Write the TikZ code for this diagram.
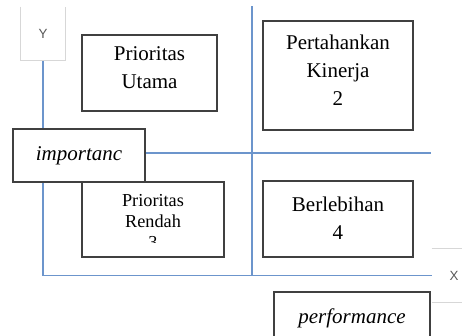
\documentclass[tikz,border=0pt]{standalone}
\usepackage{fontspec}
\setmainfont{Liberation Serif}
\newfontfamily\axisfont{Liberation Sans}
\usepackage{tikz}
\usetikzlibrary{positioning, backgrounds}
\definecolor{axisblue}{RGB}{108,149,204}
\definecolor{boxgray}{RGB}{64,64,64}
\definecolor{edgegray}{RGB}{215,215,215}

\begin{document}
\begin{tikzpicture}[x=0.75pt, y=-0.75pt,
		quad/.style={draw=boxgray, line width=1.1pt, fill=white, rectangle, inner sep=0pt},
		quadtext/.style={inner sep=0pt, align=center, font=\fontsize{15.75}{21}\selectfont},
		axis/.style={draw=axisblue, line width=1.2pt},
		axislabel/.style={inner sep=0pt, minimum width=33pt, minimum height=39.75pt, font=\axisfont\fontsize{10}{12}\selectfont, text=black!65},
		lightedge/.style={draw=edgegray, line width=0.8pt}]
		\useasboundingbox (0, 0) rectangle (462, 336);
		\clip (0, 0) rectangle (462, 336);
		
		\node[axislabel] (ylab) at (43, 33.5) {Y};
		\node[axislabel] (xlab) at (454, 275.5) {X};
		\coordinate (hmid) at (431, 153);
		\coordinate (vtop) at (252, 6);
		
		\node[quad, minimum width=101.25pt, minimum height=57pt] (utama) at (149.5, 73) {};
		\node[quad, minimum width=112.5pt, minimum height=81.75pt] (kinerja) at (338, 75.5) {};
		\node[quad, minimum width=106.5pt, minimum height=56.25pt] (rendah) at (153, 219.5) {};
		\node[quad, minimum width=112.5pt, minimum height=57pt] (lebih) at (338, 219) {};
		\node[quad, minimum width=99pt, minimum height=39.75pt, font=\itshape\fontsize{15.75}{21}\selectfont] (imp) at (79, 155.5) {importanc};
		\node[quad, minimum width=117pt, minimum height=39.75pt, font=\itshape\fontsize{15.75}{21}\selectfont] (perf) at (352, 318.5) {performance};
		
		\node[quadtext, below=9pt of utama.north] (utamatext) {Prioritas\\Utama};
		\node[quadtext, below=10.5pt of kinerja.north] (kinerjatext) {Pertahankan\\Kinerja\\2};
		\node[quadtext, below=12pt of lebih.north] (lebihtext) {Berlebihan\\4};
		\begin{scope}
			\clip (82, 182) rectangle (224, 242.5); % third line cut off
			\node[quadtext, font=\fontsize{13.7}{15.75}\selectfont, below=9.75pt of rendah.north] (rendahtext) {Prioritas\\Rendah\\3};
		\end{scope}
		
		\draw[lightedge] (ylab.north west) |- (ylab.south east) -- (ylab.north east);
		\draw[lightedge] (xlab.north west) -- (xlab.north east)
			(xlab.south west) -- (xlab.south east);
		
		\begin{scope}[on background layer]
			\draw[axis] (ylab.south) |- (xlab.west);
			\draw[axis] (hmid -| imp.east) -- (hmid);
			\draw[axis] (vtop) -- (vtop |- xlab.west);
		\end{scope}
	\end{tikzpicture}
\end{document}
